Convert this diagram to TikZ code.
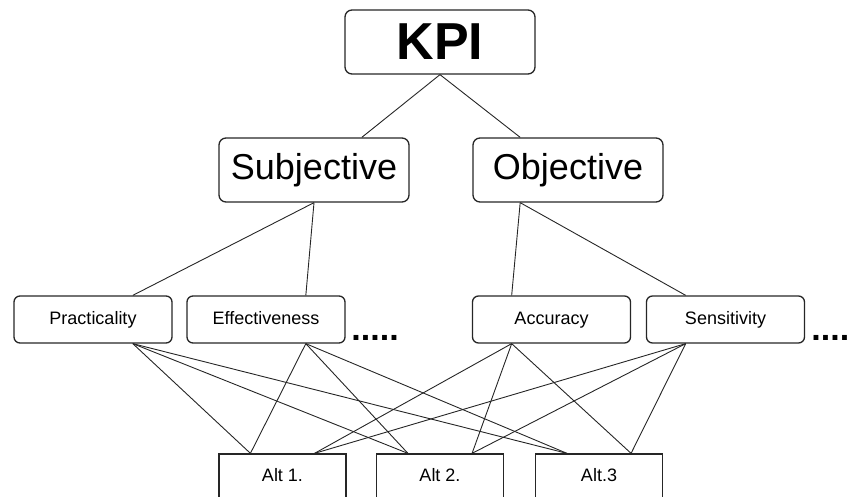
\documentclass[tikz,border=0pt]{standalone}
\usepackage{fontspec}
\setmainfont{Liberation Sans}
\usetikzlibrary{positioning,calc}

\begin{document}
\begin{tikzpicture}[
  x=1pt, y=-1pt,
  line width=0.9pt,
  bigbox/.style={draw=black!85, rounded corners=7pt, line width=1.3pt, minimum width=190pt, minimum height=64pt, inner sep=0pt},
  midbox/.style={draw=black!85, rounded corners=6pt, line width=1.3pt, minimum width=158pt, minimum height=47pt, inner sep=0pt, text height=13pt, text depth=4pt, font=\fontsize{18}{20}\selectfont},
  altbox/.style={draw=black!85, line width=1.3pt, minimum width=127pt, minimum height=46pt, inner sep=0pt, text height=13pt, text depth=4pt, font=\fontsize{18}{20}\selectfont},
  link/.style={draw=black!85, line width=0.9pt}]

\useasboundingbox (0,0) rectangle (851,497);

% top levels
\node[bigbox, font=\fontsize{52}{60}\selectfont\bfseries] (kpi) at (440,42) {KPI};
\node[bigbox, font=\fontsize{36}{40}\selectfont] (subj) at (314,170) {Subjective};
\node[bigbox, font=\fontsize{36}{40}\selectfont] (obj) at (568,170) {Objective};

% criteria
\node[midbox] (prac) at (93,319.5) {Practicality};
\node[midbox] (effe) at (266,319.5) {Effectiveness};
\node[midbox] (accu) at (551.5,319.5) {Accuracy};
\node[midbox] (sens) at (725.5,319.5) {Sensitivity};

\node[anchor=base west, font=\fontsize{34}{36}\selectfont\bfseries, inner sep=0pt] (more1) at (351,340) {.....};
\node[anchor=base west, font=\fontsize{34}{36}\selectfont\bfseries, inner sep=0pt] (more2) at (811,340) {.....};

% alternatives
\foreach \x/\n/\t in {282.5/1/Alt 1., 440/2/Alt 2., 599/3/Alt.3} {
  \node[altbox] (alt\n) at (\x,477) {\t};
}

\draw[link] (kpi.south) -- ($(subj.north)!0.5!(subj.north east)$);
\draw[link] (kpi.south) -- ($(obj.north)!0.5!(obj.north west)$);

\draw[link] (subj.south) -- ($(prac.north)!0.5!(prac.north east)$);
\draw[link] (subj.south) -- ($(effe.north)!0.5!(effe.north east)$);
\draw[link] ($(obj.south)!0.5!(obj.south west)$) -- ($(accu.north)!0.5!(accu.north west)$);
\draw[link] ($(obj.south)!0.5!(obj.south west)$) -- ($(sens.north)!0.5!(sens.north west)$);

\foreach \n in {1,2,3} {
  \draw[link] ($(prac.south)!0.5!(prac.south east)$) -- ($(alt\n.north)!0.5!(alt\n.north west)$);
  \draw[link] ($(effe.south)!0.5!(effe.south east)$) -- ($(alt\n.north)!0.5!(alt\n.north west)$);
  \draw[link] ($(accu.south)!0.5!(accu.south west)$) -- ($(alt\n.north)!0.5!(alt\n.north east)$);
  \draw[link] ($(sens.south)!0.5!(sens.south west)$) -- ($(alt\n.north)!0.5!(alt\n.north east)$);
}

\end{tikzpicture}
\end{document}
